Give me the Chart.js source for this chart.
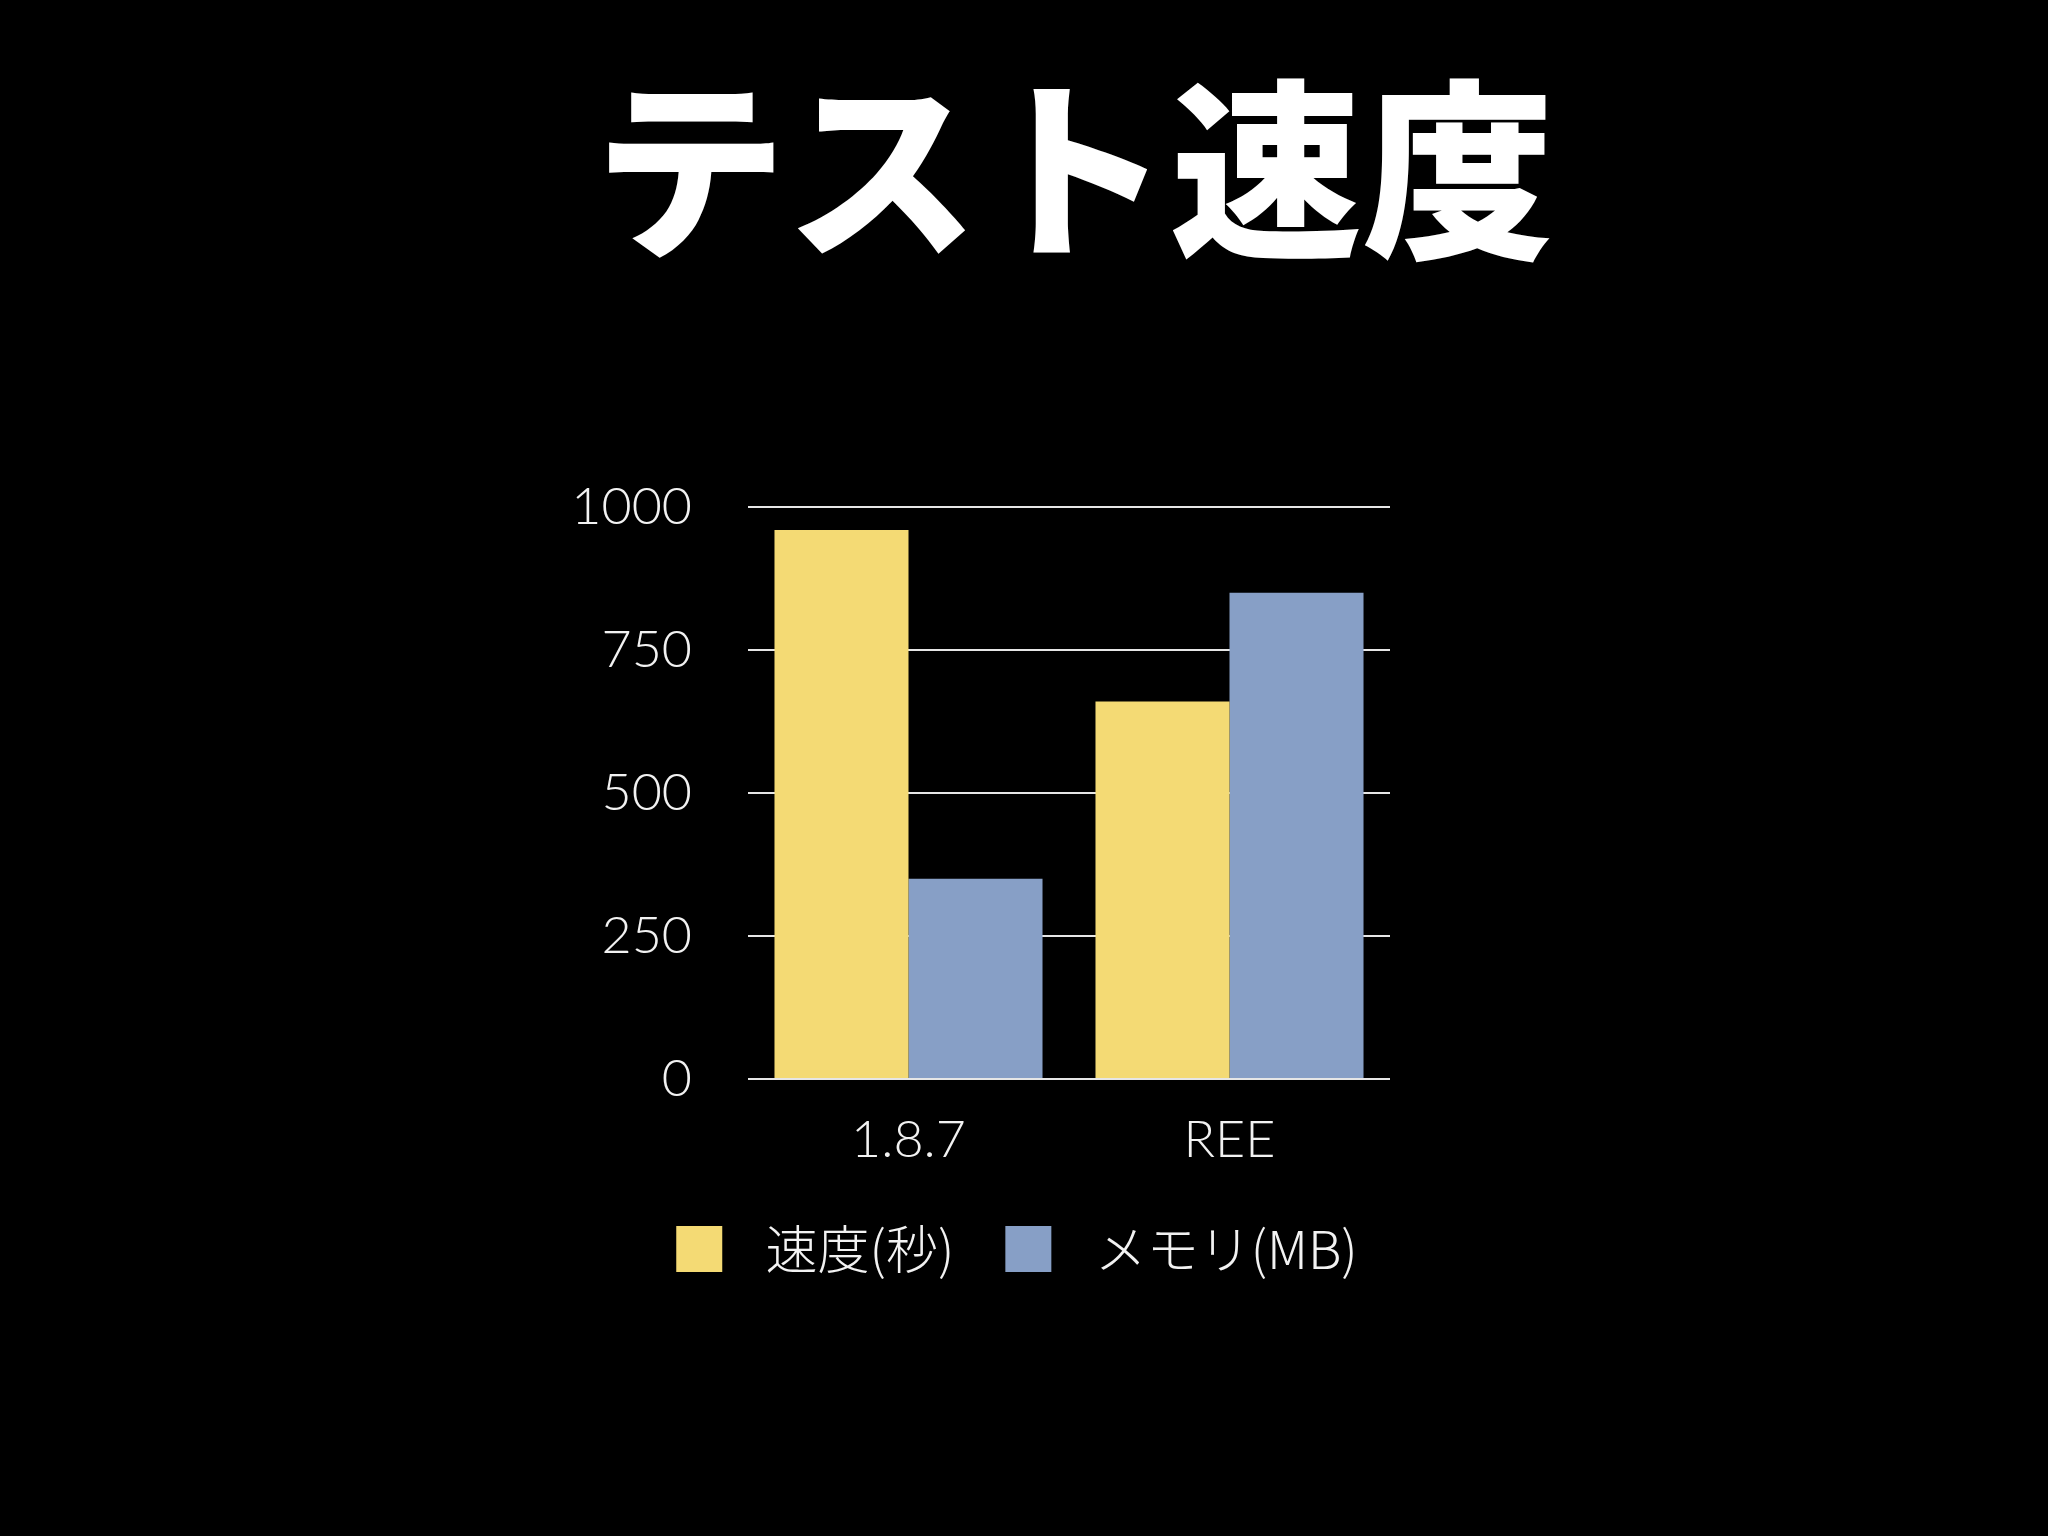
<!DOCTYPE html>
<html lang="ja">
<head>
<meta charset="utf-8">
<title>テスト速度</title>
<script src="https://cdn.jsdelivr.net/npm/chart.js@4/dist/chart.umd.min.js"></script>
<style>
  html, body { margin: 0; padding: 0; background: #000; }
  #stage { position: relative; width: 2048px; height: 1536px; background: #000; overflow: hidden; }
  #title {
    position: absolute; left: 100px; top: 63px; width: 1948px;
    text-align: center; color: #fff;
    font-family: "Noto Sans CJK JP", "Noto Sans", sans-serif;
    font-weight: 900; font-size: 192px; line-height: 1;
  }
  #chart { position: absolute; left: 0; top: 0; }
</style>
</head>
<body>
<div id="stage">
  <div id="title">テスト速度</div>
  <canvas id="chart" width="2048" height="1536"></canvas>
</div>
<script>
// data
const categories = ['1.8.7', 'REE'];
const seriesNames = ['速度(秒)', 'メモリ(MB)'];
const speedValues = [960, 660];
const memoryValues = [350, 850];
const yTicks = [0, 250, 500, 750, 1000];

const yellow = '#f4da74';
const blue = '#879fc6';
const tickFont = { family: 'Lato, "Noto Sans", sans-serif', size: 52, weight: 300 };

// the slide's legend sits a bit right of the page centre
const legendShift = {
  id: 'legendShift',
  afterLayout(chart) {
    chart.legend.left += 34;
    chart.legend.right += 34;
  }
};

const ctx = document.getElementById('chart').getContext('2d');
const chart = new Chart(ctx, {
  type: 'bar',
  data: {
    labels: categories,
    datasets: [
      { label: seriesNames[0], data: speedValues, backgroundColor: yellow, borderWidth: 0 },
      { label: seriesNames[1], data: memoryValues, backgroundColor: blue, borderWidth: 0 }
    ]
  },
  plugins: [legendShift],
  options: {
    responsive: false,
    devicePixelRatio: 1,
    animation: false,
    layout: { padding: { left: 576, right: 658, top: 507, bottom: 251 } },
    datasets: { bar: { categoryPercentage: 0.835, barPercentage: 1.0 } },
    scales: {
      x: {
        afterFit: axis => { axis.height = 93; },
        grid: { display: false, drawTicks: false },
        border: { display: false },
        ticks: { color: '#f2f2f2', padding: 30, font: tickFont }
      },
      y: {
        min: 0,
        max: 1000,
        afterBuildTicks: axis => { axis.ticks = yTicks.map(v => ({ value: v })); },
        afterFit: axis => { axis.width = 172; },
        grid: { color: '#e6e6e6', lineWidth: 2, drawTicks: false },
        border: { display: false },
        ticks: { color: '#f2f2f2', padding: 56, font: tickFont, callback: v => String(v) }
      }
    },
    plugins: {
      tooltip: { enabled: false },
      legend: {
        position: 'bottom',
        labels: {
          color: '#f2f2f2',
          boxWidth: 46,
          boxHeight: 46,
          padding: 51,
          font: { family: '"Noto Sans CJK JP", Lato, sans-serif', size: 52, weight: 300 },
          // extra gap between swatch and text, as on the slide
          generateLabels: c => Chart.defaults.plugins.legend.labels.generateLabels(c)
            .map(item => Object.assign(item, { text: '\u2004' + item.text, lineWidth: 0 }))
        }
      }
    }
  }
});
</script>
</body>
</html>
